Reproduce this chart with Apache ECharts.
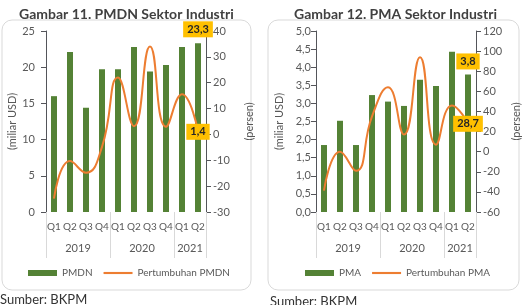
<!DOCTYPE html>
<html>
<head>
<meta charset="utf-8">
<script src="https://cdn.jsdelivr.net/npm/echarts@6/dist/echarts.min.js"></script>
<style>
  html, body { margin: 0; padding: 0; background: #fff; }
  .panel { position: absolute; top: 0; width: 261px; height: 305px; }
  #left { left: 0; }
  #right { left: 261px; }
</style>
</head>
<body>
<div id="left" class="panel"></div>
<div id="right" class="panel"></div>
<script>
// data
const quarters = ["Q1", "Q2", "Q3", "Q4", "Q1", "Q2", "Q3", "Q4", "Q1", "Q2"];
const years = ["2019", "2020", "2021"];
const yearCenters = [2, 6, 9];
const yearBounds = [0, 4, 8, 10];

const pmdnValues = [16.0, 22.1, 14.4, 19.7, 19.7, 22.8, 19.4, 20.3, 22.8, 23.3];
const pmdnGrowth = [-24.7, -10.3, -14.8, -4.8, 22.0, 3.2, 34.0, 3.0, 15.5, 1.4];

const pmaValues = [1.85, 2.52, 1.85, 3.23, 3.05, 2.93, 3.65, 3.48, 4.43, 3.8];
const pmaGrowth = [-38.5, 0, -19, 35, 64, 17, 94, 7, 46, 28.7];

const FONT = "Lato";
const GREY = "#595959";
const GREEN = "#548235";
const ORANGE = "#ED7D31";
const GOLD = "#FFC000";

// koma sebagai pemisah desimal
const fmt = (v, d) => Number(v).toFixed(d).replace(".", ",");

const goldLabel = {
  show: true,
  backgroundColor: GOLD,
  padding: [3, 4, 2, 4],
  color: "#262626",
  fontWeight: "bold",
  fontSize: 11,
  fontFamily: FONT,
};

function makeOption(cfg) {
  const last = cfg.bars.length - 1;

  const barData = cfg.bars.map((v, i) =>
    i === last
      ? {
          value: v,
          label: {
            ...goldLabel,
            position: "top",
            distance: cfg.barLabelGap,
            formatter: (p) => fmt(p.value, 1),
          },
        }
      : v,
  );

  const lineData = cfg.growth.map((v, i) =>
    i === last
      ? {
          value: v,
          label: {
            ...goldLabel,
            position: "inside",
            offset: [0, 1],
            formatter: (p) => fmt(p.value, 1),
          },
        }
      : v,
  );

  return {
    animation: false,
    textStyle: { fontFamily: FONT },
    title: {
      text: cfg.title,
      left: cfg.titleLeft,
      top: 2,
      textStyle: { fontFamily: FONT, fontSize: 14, fontWeight: "bold", color: "#404040" },
    },
    graphic: [
      {
        type: "rect",
        z: -1,
        shape: { x: cfg.box[0], y: 20, width: cfg.box[1], height: 270, r: 10 },
        style: { fill: "none", stroke: "#d9d9d9", lineWidth: 1 },
      },
      {
        type: "text",
        left: cfg.sourceLeft,
        top: cfg.sourceTop,
        style: { text: "Sumber: BKPM", fontFamily: FONT, fontSize: 13, fill: "#333" },
      },
    ],
    legend: {
      left: cfg.legendLeft,
      top: 263,
      itemWidth: 29,
      itemHeight: 6,
      itemGap: 11,
      textStyle: { fontFamily: FONT, fontSize: 10, color: GREY },
      data: [
        { name: cfg.barName, icon: "rect" },
        { name: cfg.lineName, icon: "path://M0,0H30V2.2H0Z" },
      ],
    },
    grid: {
      left: cfg.gridLeft,
      right: cfg.gridRight,
      top: 31,
      bottom: 93,
      outerBoundsMode: "none",
    },
    xAxis: [
      {
        type: "category",
        data: quarters,
        axisLine: { show: false, onZero: false },
        axisTick: { show: false },
        axisLabel: { interval: 0, margin: 10, fontSize: 10, color: GREY },
      },
      {
        type: "value",
        min: 0,
        max: 10,
        position: "bottom",
        axisLine: { show: false, onZero: false },
        splitLine: { show: false },
        axisTick: {
          show: true,
          inside: false,
          customValues: yearBounds,
          length: 46,
          lineStyle: { color: "#d9d9d9" },
        },
        axisLabel: {
          customValues: yearCenters,
          margin: 31,
          fontSize: 11,
          color: GREY,
          formatter: (v) => years[yearCenters.indexOf(v)] || "",
        },
      },
    ],
    yAxis: [
      {
        type: "value",
        min: cfg.left.min,
        max: cfg.left.max,
        interval: cfg.left.interval,
        name: "(miliar USD)",
        nameLocation: "middle",
        nameRotate: 90,
        nameGap: cfg.left.nameGap,
        nameMoveOverlap: false,
        nameTextStyle: { fontSize: 11, color: GREY },
        splitLine: { show: false },
        axisLabel: {
          margin: cfg.left.margin,
          fontSize: 11,
          color: GREY,
          formatter: (v) => fmt(v, cfg.left.decimals),
        },
      },
      {
        type: "value",
        min: cfg.right.min,
        max: cfg.right.max,
        interval: cfg.right.interval,
        position: "right",
        name: "(persen)",
        nameLocation: "middle",
        nameRotate: 90,
        nameGap: cfg.right.nameGap,
        nameMoveOverlap: false,
        nameTextStyle: { fontSize: 11, color: GREY },
        splitLine: { show: false },
        axisLabel: { margin: 7, fontSize: 11, color: GREY },
      },
    ],
    series: [
      {
        name: cfg.barName,
        type: "bar",
        barWidth: 6,
        data: barData,
        itemStyle: { color: GREEN },
      },
      {
        name: cfg.lineName,
        type: "line",
        yAxisIndex: 1,
        smooth: 0.5,
        symbol: "circle",
        symbolSize: 1,
        data: lineData,
        lineStyle: { width: 2, color: ORANGE },
        itemStyle: { color: ORANGE },
      },
    ],
  };
}

const leftChart = echarts.init(document.getElementById("left"));
leftChart.setOption(
  makeOption({
    title: "Gambar 11. PMDN Sektor Industri",
    titleLeft: 14,
    box: [2, 249],
    sourceLeft: 0,
    sourceTop: 293,
    legendLeft: 23,
    barName: "PMDN",
    lineName: "Pertumbuhan PMDN",
    bars: pmdnValues,
    growth: pmdnGrowth,
    barLabelGap: 6,
    gridLeft: 46,
    gridRight: 55,
    left: { min: 0, max: 25, interval: 5, decimals: 0, margin: 11, nameGap: 28 },
    right: { min: -30, max: 40, interval: 10, nameGap: 38 },
  }),
);

const rightChart = echarts.init(document.getElementById("right"));
rightChart.setOption(
  makeOption({
    title: "Gambar 12. PMA Sektor Industri",
    titleLeft: 28,
    box: [7, 251],
    sourceLeft: 9,
    sourceTop: 295,
    legendLeft: 39,
    barName: "PMA",
    lineName: "Pertumbuhan PMA",
    bars: pmaValues,
    growth: pmaGrowth,
    barLabelGap: 5,
    gridLeft: 55,
    gridRight: 46,
    left: { min: 0, max: 5, interval: 0.5, decimals: 1, margin: 5, nameGap: 31 },
    right: { min: -60, max: 120, interval: 20, nameGap: 35 },
  }),
);
</script>
</body>
</html>
